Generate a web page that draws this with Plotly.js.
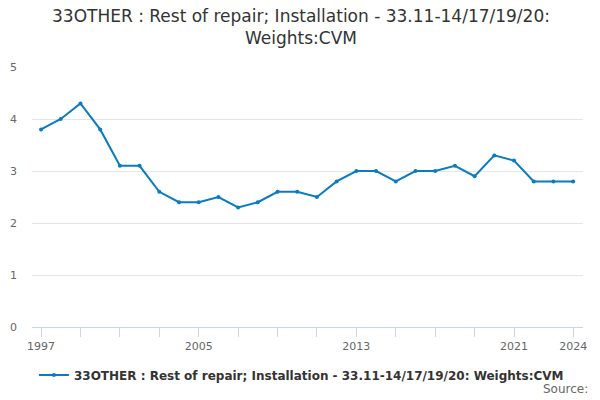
<!DOCTYPE html>
<html>
<head>
<meta charset="utf-8">
<script src="https://cdn.plot.ly/plotly-3.0.1.min.js"></script>
<style>html,body{margin:0;padding:0;background:#fff;}#chart{width:600px;height:400px;}</style>
</head>
<body>
<div id="chart"></div>
<script>
const years = [1997,1998,1999,2000,2001,2002,2003,2004,2005,2006,2007,2008,2009,2010,2011,2012,2013,2014,2015,2016,2017,2018,2019,2020,2021,2022,2023,2024];
const values = [3.8,4.0,4.3,3.8,3.1,3.1,2.6,2.4,2.4,2.5,2.3,2.4,2.6,2.6,2.5,2.8,3.0,3.0,2.8,3.0,3.0,3.1,2.9,3.3,3.2,2.8,2.8,2.8];
const xTickVals = [1997,1999,2001,2003,2005,2007,2009,2011,2013,2015,2017,2019,2021,2024];
const xTickText = ['1997','','','','2005','','','','2013','','','','2021','2024'];
const seriesName = '33OTHER : Rest of repair; Installation - 33.11-14/17/19/20: Weights:CVM';
const titleText = '33OTHER : Rest of repair; Installation - 33.11-14/17/19/20:<br>Weights:CVM';

const trace = {
  x: years, y: values, name: seriesName, type: 'scatter', mode: 'lines+markers',
  line: {color: '#0a7bc1', width: 2},
  marker: {color: '#0a7bc1', size: 4},
  showlegend: true
};
const layout = {
  width: 600, height: 400,
  font: {family: 'DejaVu Sans, sans-serif', color: '#333'},
  paper_bgcolor: '#fff', plot_bgcolor: '#fff',
  margin: {l: 32, r: 17, t: 67, b: 73, autoexpand: false},
  xaxis: {
    range: [1996.54, 2024.5], tickvals: xTickVals, ticktext: xTickText,
    ticks: 'outside', ticklen: 9, tickcolor: '#ccd6eb', tickwidth: 1,
    showline: true, linecolor: '#ccd6eb', linewidth: 1,
    showgrid: false, zeroline: false,
    tickfont: {size: 11, color: '#666'}
  },
  yaxis: {
    range: [0, 5], dtick: 1, showgrid: true, gridcolor: '#e6e6e6',
    zeroline: false, showline: false, ticks: '', ticklabelstandoff: 14,
    tickfont: {size: 11, color: '#666'}
  },
  legend: {orientation: 'h', x: 0.489, xanchor: 'center', y: -0.185, yanchor: 'middle',
    itemwidth: 30, font: {size: 12, color: '#333', weight: 'bold'}},
  annotations: [
    {text: titleText, xref: 'paper', yref: 'paper', x: 0.489, y: 1.152,
     xanchor: 'center', yanchor: 'middle', showarrow: false, align: 'center',
     font: {size: 17, color: '#333'}},
    {text: 'Source:', xref: 'paper', yref: 'paper', x: 1.012, y: -0.24,
    xanchor: 'right', yanchor: 'middle', showarrow: false, font: {size: 12, color: '#666'}}]
};
Plotly.newPlot('chart', [trace], layout, {displayModeBar: false, staticPlot: true});
</script>
</body>
</html>
